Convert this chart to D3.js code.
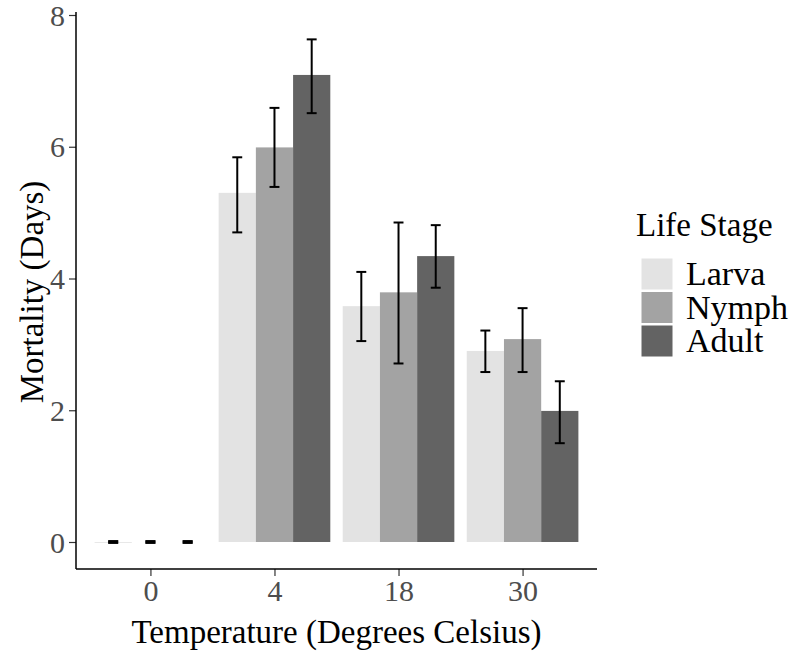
<!DOCTYPE html>
<html>
<head>
<meta charset="utf-8">
<script src="https://cdn.jsdelivr.net/npm/d3@7"></script>
<style>
  body { margin: 0; background: #fff; }
  svg text { font-family: "Liberation Serif", "DejaVu Serif", serif; }
</style>
</head>
<body>
<svg id="chart" width="794" height="652"></svg>
<script>
const temps = ["0", "4", "18", "30"]
const stages = ["Larva", "Nymph", "Adult"]
const stage_colors = ["#e3e3e3", "#a3a3a3", "#636363"]

// mean mortality (days) with lower / upper error bar ends, one per temperature
const larva_mean = [0, 5.30, 3.58, 2.90]
const larva_low = [0, 4.70, 3.05, 2.58]
const larva_high = [0, 5.84, 4.10, 3.21]
const nymph_mean = [0, 5.99, 3.79, 3.08]
const nymph_low = [0, 5.39, 2.71, 2.58]
const nymph_high = [0, 6.59, 4.85, 3.55]
const adult_mean = [0, 7.09, 4.34, 1.99]
const adult_low = [0, 6.51, 3.86, 1.50]
const adult_high = [0, 7.63, 4.81, 2.44]
const y_ticks = [0, 2, 4, 6, 8]

const series = {
    Larva: { mean: larva_mean, low: larva_low, high: larva_high },
    Nymph: { mean: nymph_mean, low: nymph_low, high: nymph_high },
    Adult: { mean: adult_mean, low: adult_low, high: adult_high }
}

let rows = []
temps.forEach((t, i) => {
    stages.forEach(s => {
        rows.push({ temp: t, stage: s, mean: series[s].mean[i], low: series[s].low[i], high: series[s].high[i] })
    })
})

const svg = d3.select('#chart')
const panel = { left: 76, right: 597, top: 12, bottom: 569 }

const x = d3.scalePoint()
    .domain(temps)
    .range([panel.left, panel.right])
    .padding(0.6)
const group_w = x.step() * 0.9
const x1 = d3.scaleBand()
    .domain(stages)
    .range([-group_w / 2, group_w / 2])
const y = d3.scaleLinear()
    .domain([0, 8])
    .range([542, 15])
const color = d3.scaleOrdinal().domain(stages).range(stage_colors)

// bars (the zero-height larva bar still leaves a faint line, as in the original)
svg.append('g')
    .selectAll('rect')
    .data(rows)
    .join('rect')
    .attr('x', d => x(d.temp) + x1(d.stage))
    .attr('width', x1.bandwidth())
    .attr('y', d => y(d.mean))
    .attr('height', d => d.mean === 0 && d.stage !== 'Larva' ? 0 : Math.max(y(0) - y(d.mean), 0.8))
    .attr('fill', d => color(d.stage))

// error bars
const cap = x.step() * 0.04
const err = svg.append('g')
    .attr('stroke', '#000')
    .attr('stroke-width', 2)
    .selectAll('g')
    .data(rows)
    .join('g')
    .attr('transform', d => `translate(${x(d.temp) + x1(d.stage) + x1.bandwidth() / 2},0)`)
err.append('line')
    .attr('y1', d => y(d.low))
    .attr('y2', d => y(d.high))
err.append('line')
    .attr('x1', -cap).attr('x2', cap)
    .attr('y1', d => y(d.high)).attr('y2', d => y(d.high))
    .attr('stroke-width', d => d.mean === 0 ? 3.5 : 2)
err.append('line')
    .attr('x1', -cap).attr('x2', cap)
    .attr('y1', d => y(d.low)).attr('y2', d => y(d.low))
    .attr('stroke-width', d => d.mean === 0 ? 3.5 : 2)

// axes
const yAxis = svg.append('g')
    .attr('transform', `translate(${panel.left},0)`)
    .call(d3.axisLeft(y).tickValues(y_ticks).tickSize(7).tickPadding(4))
const xAxis = svg.append('g')
    .attr('transform', `translate(0,${panel.bottom})`)
    .call(d3.axisBottom(x).tickSize(7).tickPadding(4))
;[yAxis, xAxis].forEach(g => {
    g.select('.domain').remove()
    g.selectAll('.tick line').attr('stroke', '#333').attr('stroke-width', 1.2)
    g.selectAll('.tick text')
        .attr('fill', '#4d4d4d')
        .style('font-size', '30px')
})
yAxis.selectAll('.tick text').attr('dy', '0.34em')
svg.append('line')
    .attr('x1', panel.left).attr('x2', panel.left)
    .attr('y1', panel.top).attr('y2', panel.bottom)
    .attr('stroke', '#000').attr('stroke-width', 1.5)
svg.append('line')
    .attr('x1', panel.left).attr('x2', panel.right)
    .attr('y1', panel.bottom).attr('y2', panel.bottom)
    .attr('stroke', '#000').attr('stroke-width', 1.5)

// axis titles
svg.append('text')
    .attr('x', (panel.left + panel.right) / 2)
    .attr('y', 643)
    .attr('text-anchor', 'middle')
    .style('font-size', '33px')
    .text('Temperature (Degrees Celsius)')
svg.append('text')
    .attr('transform', 'translate(43,292) rotate(-90)')
    .attr('text-anchor', 'middle')
    .style('font-size', '33px')
    .text('Mortality (Days)')

// legend
const legend = svg.append('g').attr('transform', 'translate(636,0)')
legend.append('text')
    .attr('x', 0).attr('y', 236)
    .style('font-size', '33px')
    .text('Life Stage')
const key = 32
const item = legend.selectAll('g')
    .data(stages)
    .join('g')
    .attr('transform', (d, i) => `translate(5,${258 + i * (key + 1.5)})`)
item.append('rect')
    .attr('width', key).attr('height', key)
    .attr('fill', d => color(d))
    .attr('stroke', '#fff').attr('stroke-width', 1)
item.append('text')
    .attr('x', key + 13)
    .attr('y', key / 2 + 11)
    .style('font-size', '34px')
    .text(d => d)
</script>
</body>
</html>
